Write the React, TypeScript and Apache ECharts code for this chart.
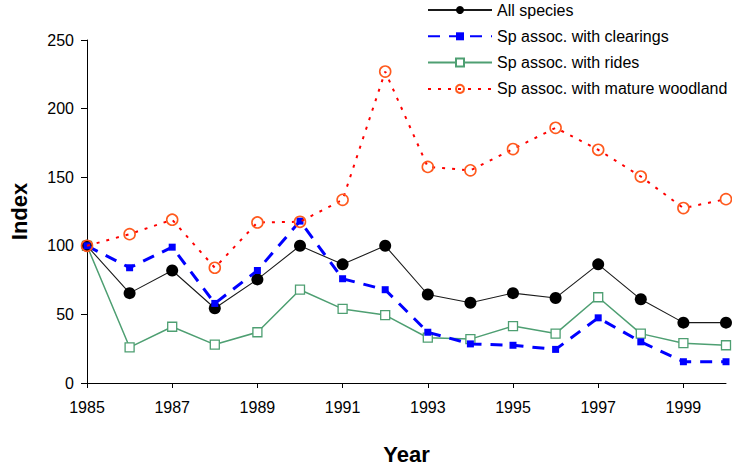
import React, { useEffect, useRef } from "react";
import * as echarts from "echarts";

const years = ["1985","1986","1987","1988","1989","1990","1991","1992","1993","1994","1995","1996","1997","1998","1999","2000"];
const allSpecies = [100, 65.5, 82, 54.5, 75.5, 100, 86.5, 100, 64.5, 58.5, 65.5, 62, 86.5, 61, 44, 44];
const clearings = [100, 84, 99, 58, 82, 118, 76, 68, 37, 28.5, 27.5, 24.5, 47.5, 30, 15.5, 15.5];
const rides = [100, 26, 41, 28, 37, 68, 54, 49.5, 33, 32, 41.5, 36, 62.5, 36, 29, 27.5];
const woodland = [100, 108.5, 119, 84, 117, 117.5, 133.5, 227, 157.5, 155, 170.5, 186, 170, 150.5, 127.5, 134];
const yTicks = { min: 0, max: 250, interval: 50 };

export default function App() {
  const ref = useRef<HTMLDivElement>(null);
  useEffect(() => {
    if (!ref.current) return;
    const chart = echarts.init(ref.current, null, { renderer: "svg" });
    const font = "Liberation Sans, Arial, sans-serif";
    chart.setOption({
      animation: false,
      backgroundColor: "#ffffff",
      textStyle: { fontFamily: font },
      grid: { left: 83, right: 6, top: 40, bottom: 83, containLabel: false },
      legend: {
        orient: "vertical",
        left: 422,
        top: -3,
        itemWidth: 64,
        itemHeight: 10,
        itemGap: 10.3,
        textStyle: { fontFamily: font, fontSize: 16, color: "#000" },
        data: [
          "All species",
          "Sp assoc. with clearings",
          "Sp assoc. with rides",
          "Sp assoc. with mature woodland",
        ],
      },
      xAxis: {
        type: "category",
        data: years,
        boundaryGap: false,
        name: "Year",
        nameLocation: "middle",
        nameGap: 60,
        nameTextStyle: { fontFamily: font, fontSize: 22, fontWeight: "bold", color: "#000" },
        axisLine: { lineStyle: { color: "#000", width: 1 } },
        axisTick: { show: true, interval: 1, length: 5, inside: false, lineStyle: { color: "#000" } },
        axisLabel: { interval: 1, margin: 16, fontSize: 16, color: "#000", fontFamily: font },
        splitLine: { show: false },
      },
      yAxis: {
        type: "value",
        min: yTicks.min,
        max: yTicks.max,
        interval: yTicks.interval,
        name: "Index",
        nameLocation: "middle",
        nameGap: 57,
        nameRotate: 90,
        nameTextStyle: { fontFamily: font, fontSize: 22, fontWeight: "bold", color: "#000" },
        axisLine: { show: true, lineStyle: { color: "#000", width: 1 } },
        axisTick: { show: true, length: 6, lineStyle: { color: "#000" } },
        axisLabel: { margin: 13, fontSize: 16, color: "#000", fontFamily: font },
        splitLine: { show: false },
      },
      series: [
        {
          name: "All species",
          type: "line",
          data: allSpecies,
          symbol: "circle",
          symbolSize: 12,
          lineStyle: { color: "#1a1a1a", width: 1.1 },
          itemStyle: { color: "#000" },
          z: 3,
        },
        {
          name: "Sp assoc. with clearings",
          type: "line",
          data: clearings,
          symbol: "rect",
          symbolSize: 7,
          lineStyle: { color: "#0000ff", width: 3, type: [12, 9] },
          itemStyle: { color: "#0000ff" },
          z: 4,
        },
        {
          name: "Sp assoc. with rides",
          type: "line",
          data: rides,
          symbol: "rect",
          symbolSize: 9,
          lineStyle: { color: "#4e9f72", width: 1.5 },
          itemStyle: { color: "#ffffff", borderColor: "#4e9f72", borderWidth: 1.3 },
          z: 2,
        },
        {
          name: "Sp assoc. with mature woodland",
          type: "line",
          data: woodland,
          symbol: "circle",
          symbolSize: 11,
          lineStyle: { color: "#ff0000", width: 2, type: [3, 7] },
          itemStyle: { color: "rgba(255,255,255,0)", borderColor: "#ff5a1e", borderWidth: 1.6 },
          z: 5,
        },
      ],
    });
    return () => chart.dispose();
  }, []);
  return <div ref={ref} style={{ width: 732, height: 470, position: "absolute", left: 0, top: 0 }} />;
}
